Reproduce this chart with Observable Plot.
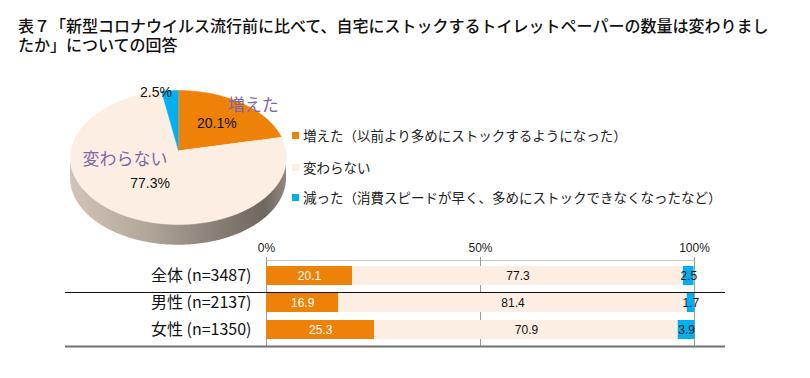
<!DOCTYPE html>
<html>
<head>
<meta charset="utf-8">
<script src="https://cdn.jsdelivr.net/npm/d3@7"></script>
<script src="https://cdn.jsdelivr.net/npm/@observablehq/plot@0.6"></script>
<style>
  body { margin: 0; background: #fff; }
  #root { position: relative; width: 810px; height: 378px; overflow: hidden; font-family: "Noto Sans CJK JP", "Noto Sans", sans-serif; }
  #title { position: absolute; left: 18px; top: 17px; font-size: 16px; line-height: 19px; color: #111; font-weight: 500; white-space: nowrap; font-family: "Liberation Sans", "Noto Sans CJK JP", sans-serif; }
  .layer { position: absolute; left: 0; }
  .li { position: absolute; left: 292px; height: 18px; display: flex; align-items: center; font-size: 13.5px; color: #222; white-space: nowrap; }
  .sw { width: 7px; height: 7px; margin-right: 4px; }
</style>
</head>
<body>
<div id="root">
  <div id="title"></div>
  <div id="pie" class="layer" style="top:70px"></div>
  <div id="legend"></div>
  <div id="bars" class="layer" style="top:230px"></div>
</div>
<script>
// ---- data ----
const titleLines = ["表７「新型コロナウイルス流行前に比べて、自宅にストックするトイレットペーパーの数量は変わりまし", "たか」についての回答"];
const categories = ["増えた", "変わらない", "減った"];
const legendLabels = ["増えた（以前より多めにストックするようになった）", "変わらない", "減った（消費スピードが早く、多めにストックできなくなったなど）"];
const pieValues = [20.1, 77.3, 2.5];
const groups = ["全体 (n=3487)", "男性 (n=2137)", "女性 (n=1350)"];
const increased = [20.1, 16.9, 25.3];
const unchanged = [77.3, 81.4, 70.9];
const decreased = [2.5, 1.7, 3.9];
const xTicks = [0, 50, 100];
const colors = ["#EE8208", "#FDEEE3", "#00B0F0"];

// ---- title ----
document.getElementById("title").innerHTML = titleLines.join("<br>");

// ---- legend ----
const legendTops = [126, 158, 188];
const legend = document.getElementById("legend");
legendLabels.forEach((t, i) => {
  const d = document.createElement("div");
  d.className = "li";
  d.style.top = legendTops[i] + "px";
  d.innerHTML = `<span class="sw" style="background:${colors[i]}"></span><span>${t}</span>`;
  legend.appendChild(d);
});

// ---- pie (3D-like) ----
const arcs = d3.pie().sort(null).value(d => d)(pieValues);
const facePts = [];
arcs.forEach((a, i) => {
  facePts.push({k: categories[i], x: 0, y: 0.1});
  const n = Math.max(2, Math.ceil((a.endAngle - a.startAngle) / (Math.PI / 180)));
  for (let j = 0; j <= n; j++) {
    const t = a.startAngle + (a.endAngle - a.startAngle) * j / n;
    facePts.push({k: categories[i], x: Math.sin(t), y: Math.cos(t)});
  }
});
const depth = 0.31;
const sidePts = d3.range(0, 181).map(j => {
  const t = Math.PI / 2 + Math.PI * j / 180;
  return {x: Math.sin(t), y1: Math.cos(t) - depth, y2: Math.cos(t)};
});
const pieLabels = arcs.map((a, i) => ({k: categories[i], v: pieValues[i], m: (a.startAngle + a.endAngle) / 2}));
const byKey = k => pieLabels.filter(d => d.k === k);

const defs = () => {
  const g = document.createElementNS("http://www.w3.org/2000/svg", "defs");
  g.innerHTML = `<linearGradient id="sideGrad" x1="0" x2="1" y1="0" y2="0">
    <stop offset="0" stop-color="#d3c4b8"/>
    <stop offset="0.35" stop-color="#b3a79c"/>
    <stop offset="0.7" stop-color="#857c74"/>
    <stop offset="0.9" stop-color="#6f6860"/>
    <stop offset="1" stop-color="#8f877f"/>
  </linearGradient>`;
  return g;
};

const latin = "'Liberation Sans', Arial, sans-serif";
const pie = Plot.plot({
  width: 300, height: 190,
  margin: 0,
  x: {domain: [-1, 1], range: [70, 286], axis: null},
  y: {domain: [-1, 1], range: [154, 20], axis: null},
  color: {domain: categories, range: colors},
  style: {fontFamily: "'Noto Sans CJK JP', sans-serif", background: "transparent", overflow: "visible"},
  marks: [
    defs,
    Plot.areaY(sidePts, {x: "x", y1: "y1", y2: "y2", fill: "url(#sideGrad)"}),
    Plot.line(facePts, {x: "x", y: "y", z: "k", fill: "k", stroke: "k", strokeWidth: 0.5}),
    // percentages
    Plot.text(pieLabels.filter(d => d.k !== "減った"), {
      x: d => (d.k === "増えた" ? 0.6 : 0.5) * Math.sin(d.m),
      y: d => (d.k === "増えた" ? 0.6 : 0.5) * Math.cos(d.m),
      text: d => d.v.toFixed(1) + "%", fontSize: 14, fill: "#111", fontFamily: latin, dy: -2
    }),
    Plot.text(byKey("減った"), {
      x: d => Math.sin(d.m), y: d => Math.cos(d.m),
      text: d => d.v.toFixed(1) + "%", fontSize: 14, fill: "#111", fontFamily: latin, dx: -14, dy: 2
    }),
    // names
    Plot.text(byKey("増えた"), {
      x: d => Math.sin(d.m), y: d => Math.cos(d.m), text: "k",
      fontSize: 17, fill: "#7D68A7", dx: 11, dy: 2
    }),
    Plot.text(byKey("変わらない"), {
      x: d => 0.5 * Math.sin(d.m), y: d => 0.5 * Math.cos(d.m), text: "k",
      fontSize: 17, fill: "#7D68A7", dx: -25, dy: -26
    })
  ]
});
document.getElementById("pie").appendChild(pie);

// ---- stacked bars ----
const rows = groups.flatMap((g, i) => [
  {g, k: categories[0], v: increased[i]},
  {g, k: categories[1], v: unchanged[i]},
  {g, k: categories[2], v: decreased[i]}
]);

const bars = Plot.plot({
  width: 810, height: 130,
  marginLeft: 266, marginRight: 116, marginTop: 31, marginBottom: 16,
  x: {domain: [0, 100], axis: null},
  y: {domain: groups, axis: null, paddingInner: 0.28, paddingOuter: 0.14},
  color: {domain: categories, range: colors},
  style: {fontFamily: latin, fontSize: "12px", background: "transparent", overflow: "visible"},
  marks: [
    Plot.ruleY([groups[0]], {dy: -15.5, stroke: "#c8c8c8"}),
    Plot.ruleX(xTicks, {stroke: "#9a9a9a", insetTop: -4, insetBottom: -3}),
    Plot.barX(rows, {x: "v", y: "g", fill: "k"}),
    Plot.text(rows, Plot.stackX({x: "v", y: "g", text: d => d.k === categories[0] ? d.v.toFixed(1) : null, fill: "white", fontSize: 12})),
    Plot.text(rows, Plot.stackX({x: "v", y: "g", text: d => d.k !== categories[0] ? d.v.toFixed(1) : null, fill: "#111", fontSize: 12})),
    Plot.ruleY([groups[1]], {dy: -10.5, stroke: "#111", strokeWidth: 1.2, insetLeft: -201, insetRight: -31}),
    Plot.ruleY([groups[2]], {dy: 16.5, stroke: "#707070", strokeWidth: 2, insetLeft: -201, insetRight: -31}),
    Plot.text(xTicks, {x: d => d, frameAnchor: "top", dy: -18, text: d => d + "%", fill: "#222", fontSize: 12}),
    Plot.text(groups, {y: d => d, frameAnchor: "left", textAnchor: "end", dx: -15, text: d => d, fill: "#111", fontSize: 16, fontFamily: "'Noto Sans CJK JP', sans-serif", style: "letter-spacing:0.4px"})
  ]
});
document.getElementById("bars").appendChild(bars);
</script>
</body>
</html>
